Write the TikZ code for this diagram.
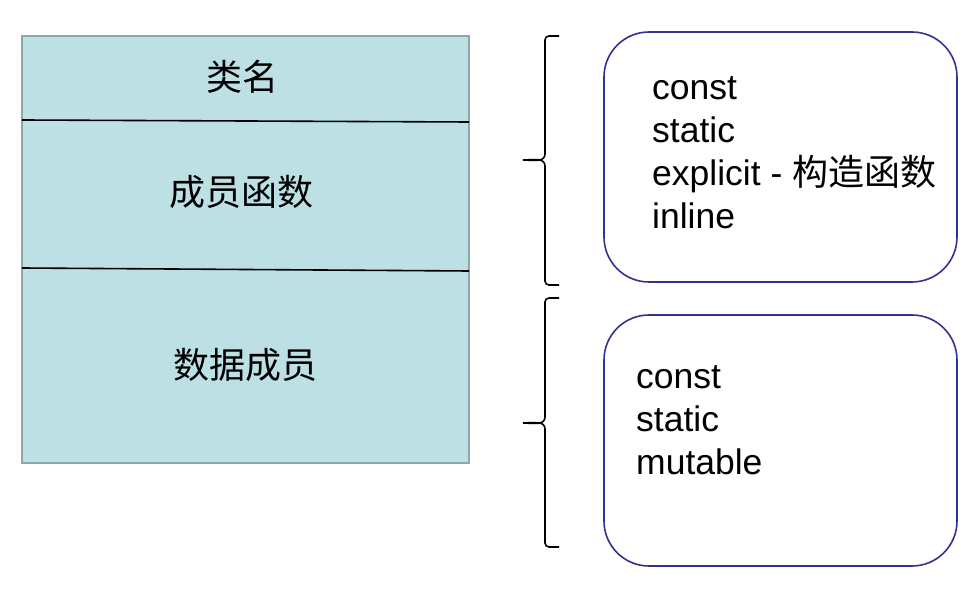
\documentclass[tikz,border=0pt]{standalone}
\usepackage{fontspec}
\setmainfont{Liberation Sans}
\newfontfamily\cjk{Noto Sans CJK SC}
\definecolor{tealfill}{RGB}{188,224,227}
\definecolor{tealedge}{RGB}{140,168,172}
\definecolor{navy}{RGB}{50,50,145}
\begin{document}
\begin{tikzpicture}[x=1pt,y=-1pt,
  cjklabel/.style={font=\cjk\fontsize{36}{36}\selectfont, inner sep=0pt, anchor=base},
  item/.style={font=\fontsize{35.5}{36}\selectfont, inner sep=0pt, anchor=base west},
  sep/.style={line width=1.6pt, black},
  brace/.style={line width=1.6pt, black},
  panel/.style={draw=navy, line width=1.6pt, rounded corners=45pt}]
\useasboundingbox (0,0) rectangle (978,593);
% class box
\node[draw=tealedge, fill=tealfill, line width=1.4pt, minimum width=447pt, minimum height=427pt, inner sep=0pt] (cls) at (245.5,249.5) {};
\coordinate (l1a) at (22,120); \coordinate (l1b) at (469,122);
\coordinate (l2a) at (22,268); \coordinate (l2b) at (469,271);
\draw[sep] (l1a) -- (l1b);
\draw[sep] (l2a) -- (l2b);
\node[cjklabel] (name) at (242,91) {类名};
\node[cjklabel] (func) at (241,206) {成员函数};
\node[cjklabel] (data) at (245,379) {数据成员};
% braces
\draw[brace] (559,36) -- (549,36) to[out=180,in=90] (545,40) -- (545,154)
  to[out=-90,in=0] (523,160) to[out=0,in=90] (545,166) -- (545,281)
  to[out=-90,in=180] (549,285) -- (559,285);
\draw[brace] (559,298) -- (549,298) to[out=180,in=90] (545,302) -- (545,417)
  to[out=-90,in=0] (523,423) to[out=0,in=90] (545,429) -- (545,543)
  to[out=-90,in=180] (549,547) -- (559,547);
% panels
\draw[panel] (604,32) rectangle (957,282);
\draw[panel] (604,315) rectangle (957,566);
\node[item] (f1) at (652,100) {const};
\node[item] (f2) at (652,143) {static};
\node[item] (f3) at (652,186) {explicit - {\cjk\fontsize{36}{36}\selectfont 构造函数}};
\node[item] (f4) at (652,229) {inline};
\node[item] (d1) at (636,389) {const};
\node[item] (d2) at (636,432) {static};
\node[item] (d3) at (636,475) {mutable};
\end{tikzpicture}
\end{document}
